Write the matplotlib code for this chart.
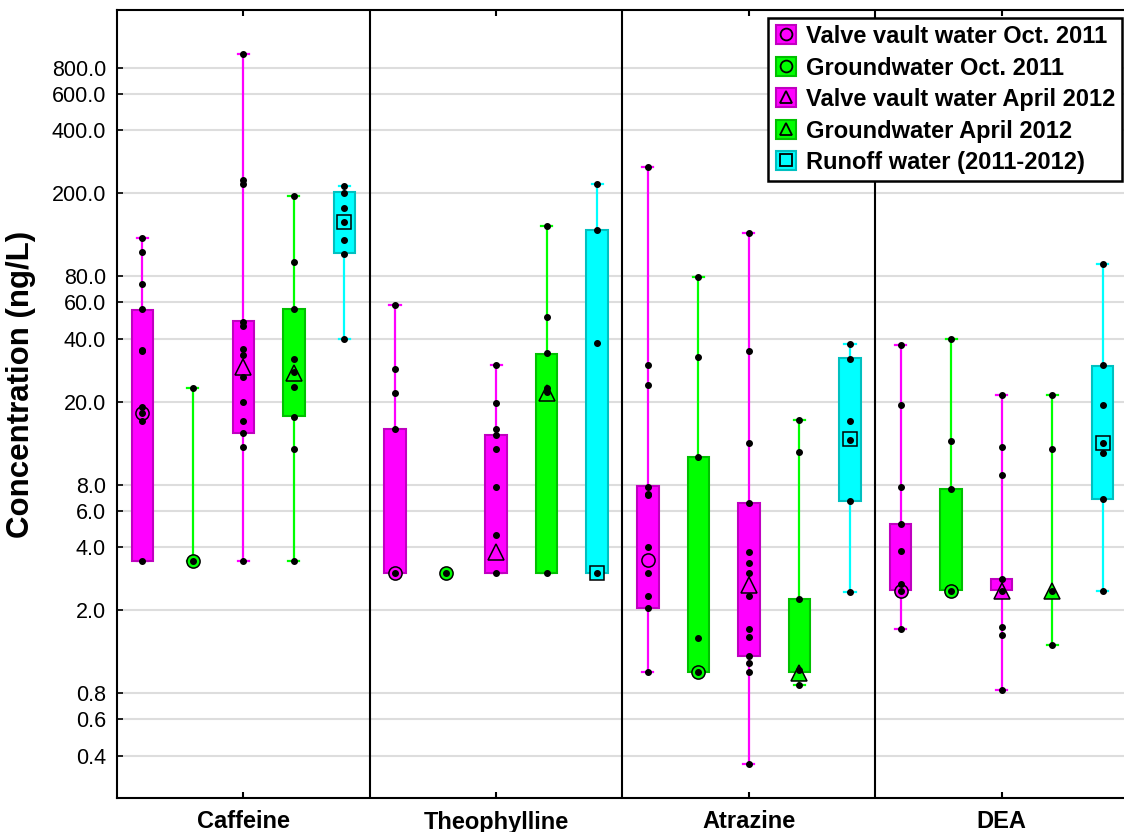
import matplotlib
matplotlib.use('Agg')
import matplotlib.pyplot as plt
from matplotlib.patches import Patch, Rectangle
from matplotlib.lines import Line2D
from matplotlib.ticker import FixedLocator, FormatStrFormatter, NullLocator
import numpy as np

plt.rcParams['font.family'] = ['Liberation Sans', 'DejaVu Sans']

compounds = ['Caffeine', 'Theophylline', 'Atrazine', 'DEA']
series_labels = ['Valve vault water Oct. 2011', 'Groundwater Oct. 2011',
                 'Valve vault water April 2012', 'Groundwater April 2012',
                 'Runoff water (2011-2012)']
series_colors = ['#FF00FF', '#00FF00', '#FF00FF', '#00FF00', '#00FFFF']
series_edges = ['#C000C0', '#00C000', '#C000C0', '#00C000', '#00C0C0']
series_markers = ['o', 'o', '^', '^', 's']

# individual samples (ng/L), one list per series
caffeine_points = [
    [122, 104.6, 73.5, 55.5, 35.3, 34.9, 18.9, 17.7, 16.1, 3.42],
    [23.3, 3.42],
    [929, 231, 221, 48.3, 46.2, 35.6, 33.3, 26.1, 20.0, 16.1, 14.1, 12.1, 3.42],
    [194, 93.6, 55.5, 31.9, 27.8, 23.4, 16.8, 11.8, 3.42],
    [216, 201, 170, 146, 119, 102, 39.7],
]
theophylline_points = [
    [58.1, 28.5, 21.9, 14.7, 3.0],
    [3.0],
    [29.8, 19.6, 14.7, 13.8, 11.8, 7.8, 4.58, 3.0],
    [139, 50.7, 34.1, 23.3, 22.2, 3.0],
    [222, 133, 38.0, 3.0],
]
atrazine_points = [
    [266, 30.0, 24.1, 7.8, 7.2, 7.1, 4.0, 3.0, 2.33, 2.04, 1.01],
    [79.3, 32.7, 10.8, 1.47, 1.01],
    [129, 34.9, 12.7, 6.55, 3.78, 3.37, 3.0, 2.33, 1.63, 1.49, 1.2, 1.12, 1.01, 0.364],
    [16.4, 11.4, 2.27, 1.03, 0.877],
    [37.7, 32.0, 16.1, 13.1, 6.7, 2.43],
]
dea_points = [
    [37.2, 19.2, 7.8, 5.15, 3.84, 2.66, 2.47, 1.62],
    [39.7, 12.9, 7.6, 2.48],
    [21.6, 12.1, 8.85, 2.82, 2.47, 1.66, 1.52, 0.824],
    [21.6, 11.8, 2.47, 1.36],
    [91.6, 29.8, 19.2, 12.6, 11.3, 6.8, 2.48],
]

# box limits (25th / 75th percentile) and medians
caffeine_q1 = [3.42, 3.42, 14.2, 17.0, 102.7]
caffeine_q3 = [55.0, 3.42, 48.8, 55.3, 203]
caffeine_median = [17.7, 3.42, 29.4, 27.3, 145.6]

theophylline_q1 = [3.0, 3.0, 3.0, 3.0, 3.0]
theophylline_q3 = [14.7, 3.0, 13.9, 33.7, 133]
theophylline_median = [3.0, 3.0, 3.81, 21.9, 3.0]

atrazine_q1 = [2.05, 1.01, 1.21, 1.01, 6.7]
atrazine_q3 = [7.83, 10.8, 6.55, 2.27, 32.2]
atrazine_median = [3.47, 1.01, 2.63, 1.0, 13.3]

dea_q1 = [2.5, 2.5, 2.5, 2.47, 6.79]
dea_q3 = [5.15, 7.63, 2.81, 2.47, 29.7]
dea_median = [2.47, 2.48, 2.47, 2.47, 12.6]

y_ticks = [0.4, 0.6, 0.8, 2, 4, 6, 8, 20, 40, 60, 80, 200, 400, 600, 800]

all_points = [caffeine_points, theophylline_points, atrazine_points, dea_points]
all_q1 = [caffeine_q1, theophylline_q1, atrazine_q1, dea_q1]
all_q3 = [caffeine_q3, theophylline_q3, atrazine_q3, dea_q3]
all_median = [caffeine_median, theophylline_median, atrazine_median, dea_median]

fig = plt.figure(figsize=(11.24, 8.32), dpi=100)
ax = fig.add_axes([117 / 1124, 1 - 798 / 832, (1128 - 117) / 1124, (798 - 10) / 832])
ax.set_yscale('log')
ax.set_ylim(0.251, 1510)
ax.set_xlim(-0.5, 3.5)

offsets = [-0.4, -0.2, 0.0, 0.2, 0.4]
bw = 0.085
cap = 0.022

for gi in range(len(compounds)):
    for si in range(len(series_labels)):
        x = gi + offsets[si]
        pts = np.array(all_points[gi][si], dtype=float)
        c = series_colors[si]
        lo, hi = pts.min(), pts.max()
        if hi > lo:
            ax.plot([x, x], [lo, hi], color=c, lw=1.6, zorder=2)
            ax.plot([x - cap, x + cap], [lo, lo], color=c, lw=1.6, zorder=2)
            ax.plot([x - cap, x + cap], [hi, hi], color=c, lw=1.6, zorder=2)
        q1, q3 = all_q1[gi][si], all_q3[gi][si]
        if q3 > q1:
            ax.add_patch(Rectangle((x - bw / 2, q1), bw, q3 - q1, facecolor=c,
                                   edgecolor=series_edges[si], lw=1.5, zorder=3))
        ax.plot(x, all_median[gi][si], marker=series_markers[si], ms=11 if si in (2, 3) else 9.5,
                mfc=c, mec='black', mew=1.1, ls='none', zorder=4)
        ax.plot(np.full(len(pts), x), pts, 'o', color='black', ms=4, ls='none', zorder=5)

for xs in [0.5, 1.5, 2.5]:
    ax.axvline(xs, color='black', lw=1.5, zorder=6)

ax.yaxis.set_major_locator(FixedLocator(y_ticks))
ax.yaxis.set_major_formatter(FormatStrFormatter('%.1f'))
ax.yaxis.set_minor_locator(NullLocator())
ax.yaxis.grid(True, color='#DDDDDD', lw=1.5)
ax.set_axisbelow(True)

ax.set_xticks(range(len(compounds)))
ax.set_xticklabels(compounds, fontsize=17, fontweight='bold')
ax.tick_params(axis='x', direction='in', top=True, length=4, width=1.5, pad=9)
ax.tick_params(axis='y', direction='in', length=4, width=1.2, labelsize=15.5, pad=8)
for sp in ax.spines.values():
    sp.set_linewidth(1.5)

ax.set_ylabel('Concentration (ng/L)', fontsize=22.5, fontweight='bold')
ax.yaxis.set_label_coords(-0.080, 0.525)

handles = []
for si in range(len(series_labels)):
    sq = Patch(facecolor=series_colors[si], edgecolor=series_edges[si], lw=1.5)
    mk = Line2D([], [], marker=series_markers[si], ms=8.5, mfc='none', mec='black',
                mew=1.3, ls='none')
    handles.append((sq, mk))
leg = ax.legend(handles, series_labels, loc='upper right',
                bbox_to_anchor=(1122 / 1124, 1 - 18 / 832), bbox_transform=fig.transFigure,
                borderaxespad=0, fancybox=False, framealpha=1, edgecolor='black',
                prop={'size': 17, 'weight': 'bold'}, handlelength=0.85, handleheight=0.85,
                handletextpad=0.42, labelspacing=0.36, borderpad=0.3)
leg.get_frame().set_linewidth(1.8)
leg.set_zorder(10)

fig.savefig('out.png', dpi=100)
